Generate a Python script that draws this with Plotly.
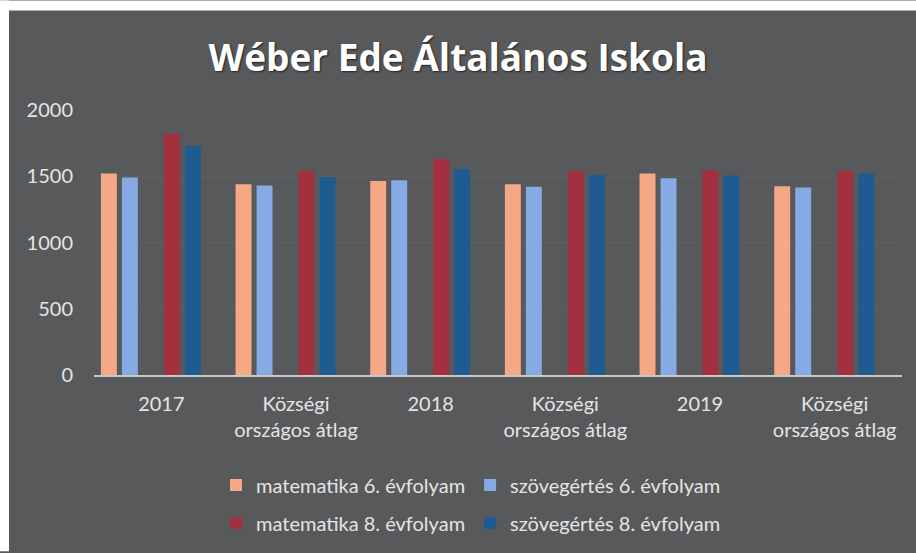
import plotly.graph_objects as go

W, H = 916, 553
M = dict(l=94, r=W - 902, t=110, b=H - 376)

categories = ["2017", "Községi<br>országos átlag", "2018", "Községi<br>országos átlag",
              "2019", "Községi<br>országos átlag"]
x_ids = ["2017", "k1", "2018", "k2", "2019", "k3"]

mat6 = [1520, 1440, 1465, 1440, 1520, 1425]
szov6 = [1490, 1430, 1470, 1420, 1485, 1415]
mat8 = [1820, 1540, 1630, 1540, 1545, 1540]
szov8 = [1730, 1495, 1555, 1510, 1505, 1520]

series = [
    ("matematika 6. évfolyam", mat6, "#f4a886", "legend"),
    ("szövegértés 6. évfolyam", szov6, "#86aae4", "legend"),
    (None, None, None, None),   # empty slot like the original sheet
    ("matematika 8. évfolyam", mat8, "#a3303e", "legend2"),
    ("szövegértés 8. évfolyam", szov8, "#1d5b91", "legend2"),
    (None, None, None, None),
]

bg = "#58595b"
txt = "#e4e4e4"

fig = go.Figure()
for name, vals, color, leg in series:
    if name is None:
        fig.add_trace(go.Bar(x=x_ids, y=[None] * len(x_ids), showlegend=False,
                             hoverinfo="skip", marker_color=bg))
        continue
    fig.add_trace(go.Bar(
        x=x_ids, y=vals, name=name, legend=leg,
        marker=dict(color=color, line=dict(width=0)),
    ))

# pixel -> paper coords
pw = W - M["l"] - M["r"]
ph = H - M["t"] - M["b"]
def px(v):
    return (v - M["l"]) / pw
def py(v):
    return (H - M["b"] - v) / ph

# white strip on top and left, like the scanned sheet
fig.add_shape(type="rect", xref="paper", yref="paper", layer="below",
              x0=px(0), x1=px(W), y0=py(0), y1=py(10),
              fillcolor="white", line_width=0)
fig.add_shape(type="rect", xref="paper", yref="paper", layer="below",
              x0=px(0), x1=px(9), y0=py(0), y1=py(H),
              fillcolor="white", line_width=0)

fig.update_layout(
    width=W, height=H,
    margin=M,
    paper_bgcolor=bg,
    plot_bgcolor=bg,
    barmode="group",
    bargap=0.065,
    bargroupgap=0.24,
    font=dict(family="Lato, sans-serif", color=txt, size=20),
    title=dict(text="<b>Wéber Ede Általános Iskola</b>", x=458 / W, xanchor="center",
               y=1 - 58 / H, yanchor="middle",
               font=dict(family="Open Sans, sans-serif", size=37, color="white",
                         shadow="1px 1px 2px #222")),
    legend=dict(orientation="h", x=px(471), xanchor="center", y=py(485), yanchor="middle",
                bgcolor="rgba(0,0,0,0)", font=dict(size=20, color=txt),
                itemwidth=30, tracegroupgap=0),
    legend2=dict(orientation="h", x=px(471), xanchor="center", y=py(523), yanchor="middle",
                 bgcolor="rgba(0,0,0,0)", font=dict(size=20, color=txt),
                 itemwidth=30, tracegroupgap=0),
    yaxis=dict(range=[0, 2000], dtick=500, showgrid=True, gridcolor="#5e5f61",
               gridwidth=1, zeroline=False, ticks="", ticklabelstandoff=20,
               tickfont=dict(size=20, color=txt)),
    xaxis=dict(tickmode="array", tickvals=x_ids, ticktext=categories,
               showline=True, linecolor="#c9c9c9", linewidth=2, ticks="",
               ticklabelstandoff=10, tickfont=dict(size=20, color=txt)),
)

fig.write_html("out.html", config={"displayModeBar": False},
               post_script="document.body.style.margin='0';")
